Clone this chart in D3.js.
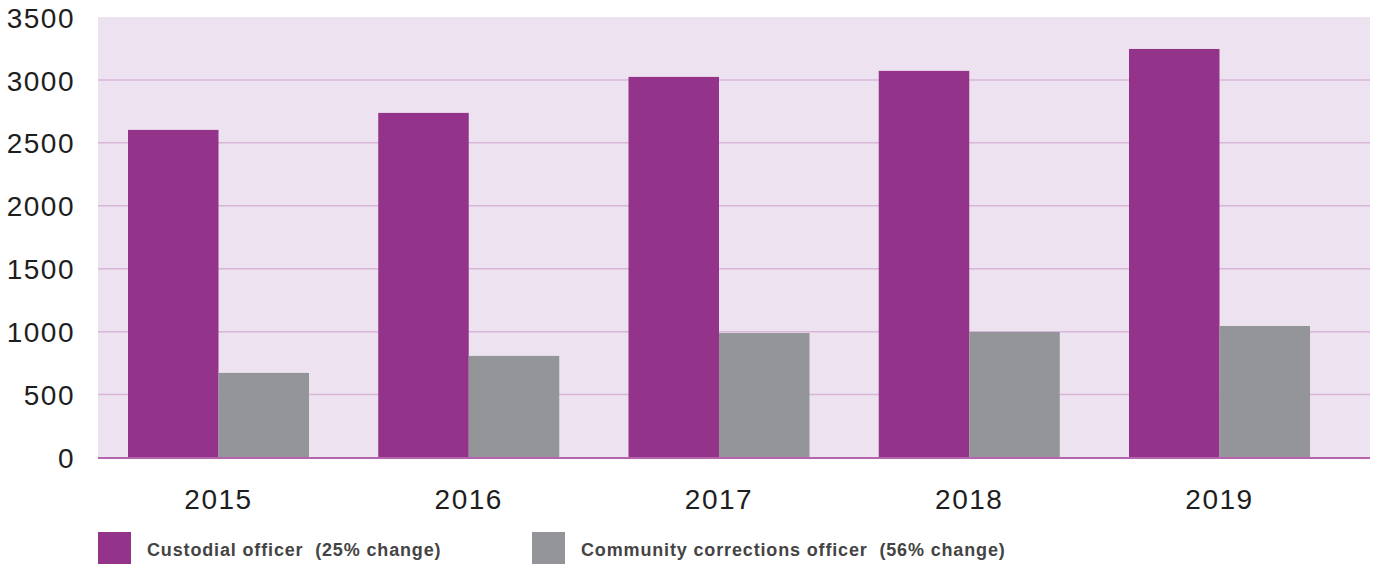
<!DOCTYPE html>
<html>
<head>
<meta charset="utf-8">
<script src="https://cdn.jsdelivr.net/npm/d3@7"></script>
<style>
  body { margin: 0; background: #fff; }
  svg text { font-family: "Liberation Sans", Arial, sans-serif; }
</style>
</head>
<body>
<div id="chart"></div>
<script>
// chart data
const years = ["2015", "2016", "2017", "2018", "2019"];
const custodial = [2603, 2738, 3024, 3072, 3246];
const community = [672, 807, 989, 997, 1045];
const seriesNames = ["Custodial officer  (25% change)", "Community corrections officer  (56% change)"];
const seriesKeys = ["custodial", "community"];
const yTicks = [0, 500, 1000, 1500, 2000, 2500, 3000, 3500];

const colors = { custodial: "#93348a", community: "#949598" };

const svgWidth = 1375;
const svgHeight = 564;

// plot area
const plot = { left: 98, right: 1370, top: 17, bottom: 457.5 };

const svg = d3.select("#chart")
    .append("svg")
    .attr("width", svgWidth)
    .attr("height", svgHeight);

const rows = years.map((y, i) => ({ year: y, custodial: custodial[i], community: community[i] }));

const x0 = d3.scaleBand()
    .domain(years)
    .range([128, 1310])
    .paddingInner(0.2767)
    .paddingOuter(0);

const x1 = d3.scaleBand()
    .domain(seriesKeys)
    .range([0, x0.bandwidth()]);

const y = d3.scaleLinear()
    .domain([0, 3500])
    .range([plot.bottom, plot.top]);

// background
svg.append("rect")
    .attr("x", plot.left)
    .attr("y", plot.top)
    .attr("width", plot.right - plot.left)
    .attr("height", plot.bottom - plot.top)
    .attr("fill", "#ede2ef");

// gridlines
svg.append("g")
    .selectAll("line")
    .data(yTicks.filter(d => d > 0 && d < 3500))
    .enter()
    .append("line")
    .attr("x1", plot.left)
    .attr("x2", plot.right)
    .attr("y1", d => y(d))
    .attr("y2", d => y(d))
    .attr("stroke", "#d8b6d8")
    .attr("stroke-width", 1.5);

// bars
const groups = svg.append("g")
    .selectAll("g")
    .data(rows)
    .enter()
    .append("g")
    .attr("transform", d => `translate(${x0(d.year)},0)`);

groups.selectAll("rect")
    .data(d => seriesKeys.map(k => ({ key: k, value: d[k] })))
    .enter()
    .append("rect")
    .attr("x", d => x1(d.key))
    .attr("width", x1.bandwidth())
    .attr("y", d => y(d.value))
    .attr("height", d => y(0) - y(d.value))
    .attr("fill", d => colors[d.key]);

// baseline
svg.append("line")
    .attr("x1", plot.left)
    .attr("x2", plot.right)
    .attr("y1", y(0) + 0.5)
    .attr("y2", y(0) + 0.5)
    .attr("stroke", "#b565ad")
    .attr("stroke-width", 2);

// y axis
const leftAxis = d3.axisLeft(y).tickValues(yTicks).tickFormat(d3.format("d")).tickSize(0).tickPadding(0);
const yAxis = svg.append("g")
    .attr("transform", `translate(75,0)`)
    .call(leftAxis);
yAxis.select(".domain").remove();
yAxis.selectAll("text")
    .attr("font-size", "28px")
    .attr("letter-spacing", "1.5px")
    .attr("fill", "#1e1e1e")
    .attr("dy", "0.36em");

// x axis
const bottomAxis = d3.axisBottom(x0).tickSize(0).tickPadding(0);
const xAxis = svg.append("g")
    .attr("transform", `translate(0,${plot.bottom})`)
    .call(bottomAxis);
xAxis.select(".domain").remove();
xAxis.selectAll("text")
    .attr("font-size", "28px")
    .attr("letter-spacing", "1.5px")
    .attr("fill", "#1e1e1e")
    .attr("y", 51)
    .attr("dy", 0);

// legend
const legendX = [98, 532];
const legend = svg.append("g")
    .selectAll("g")
    .data(seriesKeys)
    .enter()
    .append("g")
    .attr("transform", (d, i) => `translate(${legendX[i]},532)`);

legend.append("rect")
    .attr("width", 33)
    .attr("height", 32)
    .attr("fill", d => colors[d]);

legend.append("text")
    .attr("x", 49)
    .attr("y", 24)
    .attr("font-size", "18px")
    .attr("letter-spacing", "0.85px")
    .attr("font-weight", "bold")
    .attr("fill", "#444")
    .attr("xml:space", "preserve")
    .style("white-space", "pre")
    .text((d, i) => seriesNames[i]);
</script>
</body>
</html>
